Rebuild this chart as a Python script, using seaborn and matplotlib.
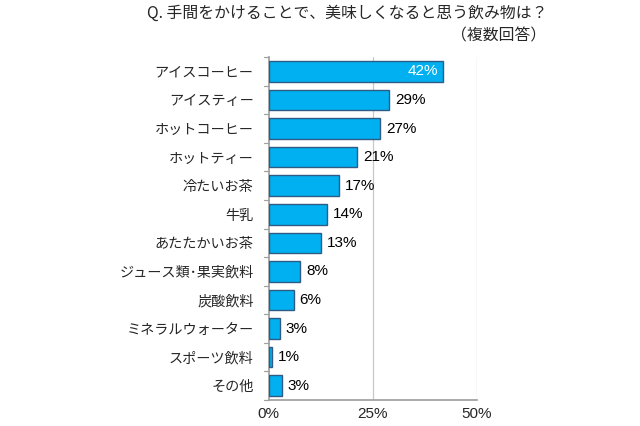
import matplotlib
matplotlib.use("Agg")
import matplotlib.pyplot as plt
import seaborn as sns
import pandas as pd

categories = ["アイスコーヒー", "アイスティー", "ホットコーヒー", "ホットティー", "冷たいお茶", "牛乳",
              "あたたかいお茶", "ジュース類･果実飲料", "炭酸飲料", "ミネラルウォーター", "スポーツ飲料", "その他"]
values = [41.8, 28.9, 26.8, 21.2, 16.9, 14.1, 12.6, 7.6, 6.0, 2.7, 0.8, 3.1]
labels = ["42%", "29%", "27%", "21%", "17%", "14%", "13%", "8%", "6%", "3%", "1%", "3%"]
xticks = [0, 25, 50]
xticklabels = ["0%", "25%", "50%"]
title = "Q. 手間をかけることで、美味しくなると思う飲み物は？"
subtitle = "（複数回答）"

sns.set_theme(style="white")
plt.rcParams['font.family'] = ['Noto Sans CJK JP', 'DejaVu Sans']
num_font = ['Liberation Sans', 'DejaVu Sans']

df = pd.DataFrame({"cat": categories, "val": values})
fig = plt.figure(figsize=(6.4, 4.26), dpi=100)
ax = fig.add_axes([0.420, 0.061, 0.325, 0.805])
sns.barplot(data=df, x="val", y="cat", ax=ax, color="#00B0F0", saturation=1,
            edgecolor="#2E5C85", linewidth=1.0, width=0.72, zorder=3)
ax.set_xlim(0, 50)
ax.set_ylim(len(categories) - 0.5, -0.5)
ax.set_xticks(xticks)
ax.set_xticklabels(xticklabels, fontsize=11, family=num_font)
ax.set_xlabel("")
ax.set_ylabel("")
ax.tick_params(axis="y", labelsize=10.2, length=0, pad=11)
ax.tick_params(axis="x", length=0, pad=5)
for x in xticks[1:]:
    ax.axvline(x, color="#C8C8C8", linewidth=0.9, zorder=1)
for s in ["top", "right"]:
    ax.spines[s].set_visible(False)
ax.spines["left"].set_color("#A0A0A0")
ax.spines["bottom"].set_color("#A0A0A0")
# category boundary ticks
for i in range(len(categories) + 1):
    ax.plot([-1.2, 0], [i - 0.5, i - 0.5], color="#A0A0A0", linewidth=0.9, clip_on=False)

for i, (v, lab) in enumerate(zip(values, labels)):
    if i == 0:
        ax.text(v - 1.0, i, lab, ha="right", va="center", color="white", fontsize=11,
                family=num_font, zorder=4)
    else:
        ax.text(v + 1.4, i, lab, ha="left", va="center", color="black", fontsize=11,
                family=num_font, zorder=4)

fig.text(0.542, 0.968, title, ha="center", va="center", fontsize=11.4)
fig.text(0.853, 0.915, subtitle, ha="right", va="center", fontsize=11.4)

fig.savefig("out.png", dpi=100)
